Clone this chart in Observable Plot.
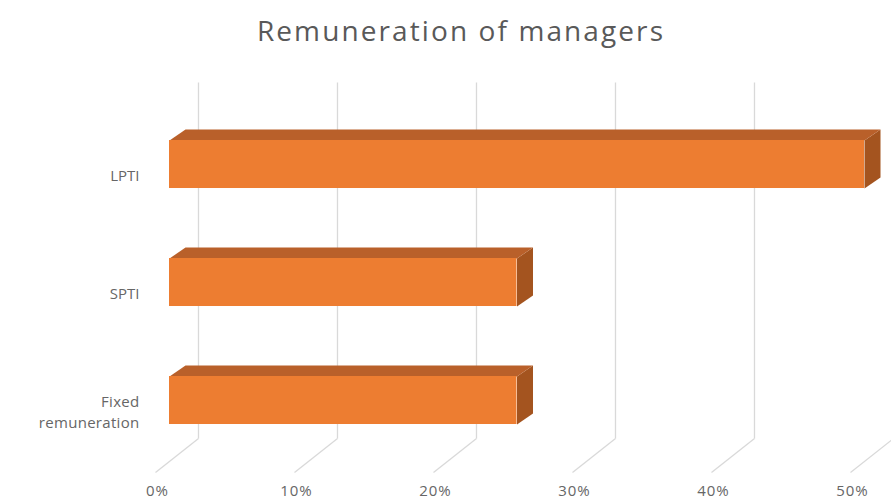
<!DOCTYPE html>
<html>
<head>
<meta charset="utf-8">
<script src="https://cdn.jsdelivr.net/npm/d3@7"></script>
<script src="https://cdn.jsdelivr.net/npm/@observablehq/plot@0.6"></script>
<style>
  html, body { margin: 0; padding: 0; background: #ffffff; }
  #chart svg { display: block; }
</style>
</head>
<body>
<div id="chart"></div>
<script>
// ---- data ----
const title = "Remuneration of managers";
const categories = ["LPTI", "SPTI", "Fixed\nremuneration"];
const values = [0.50, 0.25, 0.25];
const tickValues = [0, 0.1, 0.2, 0.3, 0.4, 0.5];
const tickLabels = ["0%", "10%", "20%", "30%", "40%", "50%"];

// ---- layout (pixels) ----
const W = 891, H = 501;
const X_RANGE = [169, 864];          // front plane of bars: 0% .. 50%
const Y_DOMAIN = [-0.695, 2.322];    // wall top .. wall bottom (category index units)
const Y_RANGE = [82, 438];
const PX_X = (X_RANGE[1] - X_RANGE[0]) / 0.5;          // px per unit of x
const PX_Y = (Y_RANGE[1] - Y_RANGE[0]) / (Y_DOMAIN[1] - Y_DOMAIN[0]);
const BAR_HALF = 24 / PX_Y;         // half thickness of bar front
const BAR_DX = 16 / PX_X, BAR_DY = -11 / PX_Y;   // bar depth
const WALL_DX = 29 / PX_X;          // back wall offset
const FLOOR_FRONT_DX = -14 / PX_X, FLOOR_FRONT_DY = 34 / PX_Y;

const front = "#ED7D31", topC = "#B9602A", sideC = "#A4541F";
const grid = "#d9d9d9";
const font = "Open Sans";

const bars = categories.map((c, k) => ({cat: c, k, v: values[k]}));

const topFaces = [], sideFaces = [];
bars.forEach(b => {
  const y0 = b.k - BAR_HALF, y1 = b.k + BAR_HALF;
  topFaces.push(
    {id: b.k, x: 0, y: y0},
    {id: b.k, x: b.v, y: y0},
    {id: b.k, x: b.v + BAR_DX, y: y0 + BAR_DY},
    {id: b.k, x: BAR_DX, y: y0 + BAR_DY}
  );
  sideFaces.push(
    {id: b.k, x: b.v, y: y0},
    {id: b.k, x: b.v, y: y1},
    {id: b.k, x: b.v + BAR_DX, y: y1 + BAR_DY},
    {id: b.k, x: b.v + BAR_DX, y: y0 + BAR_DY}
  );
});

const ticks = tickValues.map((v, i) => ({v, label: tickLabels[i]}));

const chart = Plot.plot({
  width: W, height: H,
  marginTop: 0, marginRight: 0, marginBottom: 0, marginLeft: 0,
  x: {domain: [0, 0.5], range: X_RANGE, axis: null},
  y: {domain: Y_DOMAIN, range: Y_RANGE, axis: null},
  style: {background: "#ffffff", fontFamily: font},
  marks: [
    // back wall gridlines
    Plot.link(ticks, {
      x1: d => d.v + WALL_DX, x2: d => d.v + WALL_DX,
      y1: Y_DOMAIN[0], y2: Y_DOMAIN[1],
      stroke: grid, strokeWidth: 1.3
    }),
    // floor lines
    Plot.link(ticks, {
      x1: d => d.v + WALL_DX, y1: Y_DOMAIN[1],
      x2: d => d.v + FLOOR_FRONT_DX, y2: Y_DOMAIN[1] + FLOOR_FRONT_DY,
      stroke: grid, strokeWidth: 1.3
    }),
    // bar side faces
    Plot.line(sideFaces, {x: "x", y: "y", z: "id", fill: sideC, stroke: null, curve: "linear-closed"}),
    // bar top faces
    Plot.line(topFaces, {x: "x", y: "y", z: "id", fill: topC, stroke: null, curve: "linear-closed"}),
    // bar front faces
    Plot.rect(bars, {
      x1: 0, x2: "v",
      y1: d => d.k - BAR_HALF, y2: d => d.k + BAR_HALF,
      fill: front
    }),
    // category labels
    Plot.text(bars, {
      y: "k", text: "cat", frameAnchor: "left", dx: 139, dy: 10,
      textAnchor: "end", lineHeight: 1.45,
      fontSize: 15, fill: "#666666", fontFamily: font
    }),
    // x tick labels
    Plot.text(ticks, {
      x: "v", text: "label", frameAnchor: "bottom", dx: -12, dy: -6,
      fontSize: 15, fill: "#666666", fontFamily: font
    }),
    // title
    Plot.text([title], {
      frameAnchor: "top", dx: 15, dy: 21, text: d => d,
      fontSize: 28, fill: "#595959", fontFamily: font
    })
  ]
});

// widen letter spacing to mimic the original geometric typeface
d3.select(chart).selectAll("text").each(function() {
  const t = this.textContent;
  if (t === title) this.style.letterSpacing = "2.1px";
  else if (tickLabels.includes(t)) this.style.letterSpacing = "1px";
});
d3.select(chart).selectAll("tspan").style("letter-spacing", "0.3px");

document.getElementById("chart").appendChild(chart);
</script>
</body>
</html>
